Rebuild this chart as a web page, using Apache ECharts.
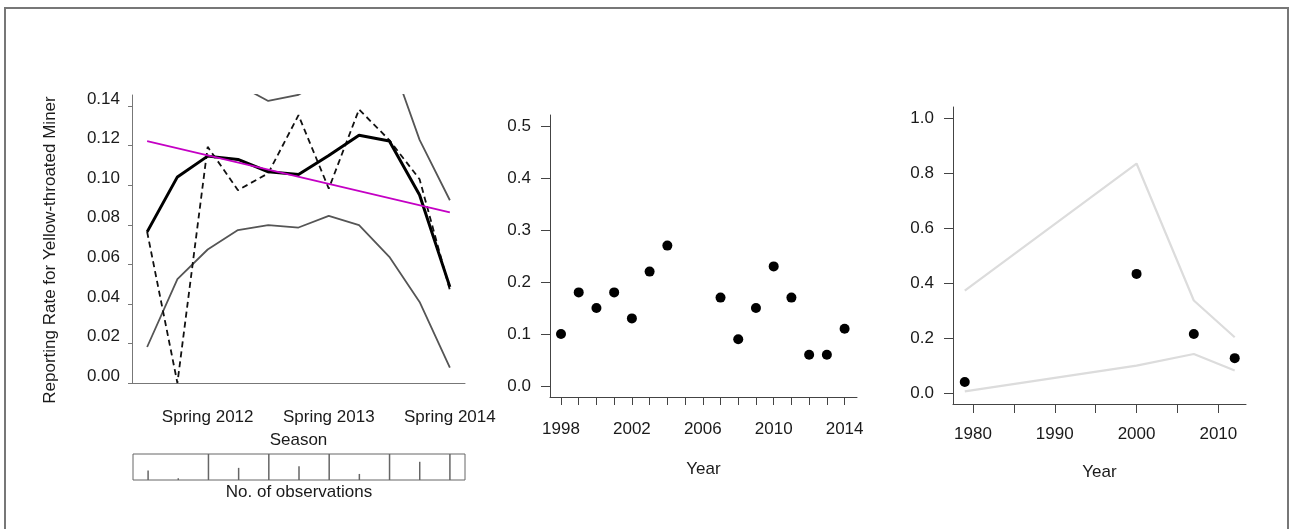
<!DOCTYPE html>
<html>
<head>
<meta charset="utf-8">
<script src="https://cdn.jsdelivr.net/npm/echarts@6/dist/echarts.min.js"></script>
<style>
  html, body { margin: 0; padding: 0; background: #fff; }
  #chart { width: 1290px; height: 529px; }
</style>
</head>
<body>
<div id="chart"></div>
<script>
// left panel: seasonal reporting rate
const seasons = ['Autumn 2012', 'Winter 2012', 'Spring 2012', 'Summer 2012', 'Autumn 2013', 'Winter 2013',
  'Spring 2013', 'Summer 2013', 'Autumn 2014', 'Winter 2014', 'Spring 2014'];
const fitted = [0.0764, 0.1042, 0.1147, 0.1130, 0.1068, 0.1054, 0.1150, 0.1253, 0.1223, 0.0950, 0.0486];
const observed = [0.0764, 0.0000, 0.1194, 0.0975, 0.1060, 0.1354, 0.0983, 0.1383, 0.1228, 0.1030, 0.0470];
const lowerCI = [0.0182, 0.0525, 0.0675, 0.0773, 0.0798, 0.0786, 0.0845, 0.0798, 0.0638, 0.0410, 0.0078];
const upperCI = [0.2000, 0.1800, 0.1650, 0.1508, 0.1426, 0.1457, 0.1550, 0.1700, 0.1660, 0.1229, 0.0924];
const trendStart = 0.1223;
const trendEnd = 0.0862;
const obsCounts = [11, 2, 30, 14, 30, 16, 30, 7, 30, 21, 30];
const leftTicks = [0, 0.02, 0.04, 0.06, 0.08, 0.10, 0.12, 0.14];

// middle panel: annual reporting rate
const years2 = [1998, 1999, 2000, 2001, 2002, 2003, 2004, 2007, 2008, 2009, 2010, 2011, 2012, 2013, 2014];
const rate2 = [0.10, 0.18, 0.15, 0.18, 0.13, 0.22, 0.27, 0.17, 0.09, 0.15, 0.23, 0.17, 0.06, 0.06, 0.11];
const midYTicks = [0, 0.1, 0.2, 0.3, 0.4, 0.5];
const midXTicks = [1998, 1999, 2000, 2001, 2002, 2003, 2004, 2005, 2006, 2007, 2008, 2009, 2010, 2011, 2012, 2013, 2014];
const midXLabels = [1998, 2002, 2006, 2010, 2014];

// right panel: long-term reporting rate
const years3 = [1979, 2000, 2007, 2012];
const rate3 = [0.04, 0.434, 0.215, 0.127];
const upper3 = [0.373, 0.836, 0.337, 0.203];
const lower3 = [0.006, 0.100, 0.142, 0.082];
const rightYTicks = [0, 0.2, 0.4, 0.6, 0.8, 1.0];
const rightXTicks = [1980, 1985, 1990, 1995, 2000, 2005, 2010];
const rightXLabels = [1980, 1990, 2000, 2010];

const font = 'Liberation Sans';
const txt = '#1a1a1a';
const fs = 17;

const chart = echarts.init(document.getElementById('chart'));

const pairs = (xs, ys) => xs.map((x, i) => [x, ys[i]]);
const isSpring = (i, v) => v.startsWith('Spring');

chart.setOption({
  animation: false,
  textStyle: { fontFamily: font },
  graphic: [{
    type: 'polyline',
    shape: { points: [[5, 540], [5, 8], [1288, 8], [1288, 540]] },
    style: { stroke: '#777', lineWidth: 2, fill: null }
  }],
  grid: [
    { left: 132, top: 95, width: 333, height: 288 },
    { left: 133, top: 454, width: 332, height: 26, show: true, borderColor: '#666', borderWidth: 1 },
    { left: 550, top: 115, width: 307, height: 282 },
    { left: 953, top: 107, width: 293, height: 297 }
  ],
  xAxis: [
    {
      gridIndex: 0, type: 'category', data: seasons, boundaryGap: true, offset: 12,
      name: 'Season', nameLocation: 'middle', nameGap: 37,
      nameTextStyle: { fontSize: fs, color: txt },
      axisLine: { lineStyle: { color: '#777' } },
      axisTick: { alignWithLabel: true, length: 5, interval: isSpring, lineStyle: { color: '#777' } },
      axisLabel: { interval: isSpring, fontSize: fs, color: txt, margin: 14 },
      splitLine: { show: false }
    },
    {
      gridIndex: 1, type: 'category', data: seasons, boundaryGap: true,
      name: 'No. of observations', nameLocation: 'middle', nameGap: 4,
      nameTextStyle: { fontSize: fs, color: txt, verticalAlign: 'top' },
      axisLine: { show: false }, axisTick: { show: false }, axisLabel: { show: false }
    },
    {
      gridIndex: 2, type: 'value', min: 1997.38, max: 2014.7,
      name: 'Year', nameLocation: 'middle', nameGap: 64,
      nameTextStyle: { fontSize: fs, color: txt },
      axisLine: { onZero: false, lineStyle: { color: '#444' } },
      axisTick: { customValues: midXTicks, length: 8, lineStyle: { color: '#444' } },
      axisLabel: { customValues: midXLabels, fontSize: fs, color: txt, margin: 24, formatter: v => String(v) },
      splitLine: { show: false }
    },
    {
      gridIndex: 3, type: 'value', min: 1977.56, max: 2013.38,
      name: 'Year', nameLocation: 'middle', nameGap: 60,
      nameTextStyle: { fontSize: fs, color: txt },
      axisLine: { onZero: false, lineStyle: { color: '#444' } },
      axisTick: { customValues: rightXTicks, length: 9, lineStyle: { color: '#444' } },
      axisLabel: { customValues: rightXLabels, fontSize: fs, color: txt, margin: 22, formatter: v => String(v) },
      splitLine: { show: false }
    }
  ],
  yAxis: [
    {
      gridIndex: 0, type: 'value', min: 0, max: 0.1456,
      name: 'Reporting Rate for Yellow-throated Miner', nameLocation: 'middle', nameGap: 73,
      nameTextStyle: { fontSize: fs, color: txt, padding: [0, 22, 0, 0] },
      axisLine: { show: true, lineStyle: { color: '#777' } },
      axisTick: { show: true, customValues: leftTicks, length: 4, lineStyle: { color: '#777' } },
      axisLabel: {
        customValues: leftTicks, fontSize: fs, color: txt, margin: 12,
        verticalAlign: 'bottom', lineHeight: 14, formatter: v => v.toFixed(2)
      },
      splitLine: { show: false }
    },
    {
      gridIndex: 1, type: 'value', min: 0, max: 30,
      axisLine: { show: false }, axisTick: { show: false }, axisLabel: { show: false }, splitLine: { show: false }
    },
    {
      gridIndex: 2, type: 'value', min: -0.0212, max: 0.5212,
      axisLine: { show: true, onZero: false, lineStyle: { color: '#444' } },
      axisTick: { show: true, customValues: midYTicks, length: 9, lineStyle: { color: '#444' } },
      axisLabel: { customValues: midYTicks, fontSize: fs, color: txt, margin: 19, formatter: v => v.toFixed(1) },
      splitLine: { show: false }
    },
    {
      gridIndex: 3, type: 'value', min: -0.04, max: 1.042,
      axisLine: { show: true, onZero: false, lineStyle: { color: '#444' } },
      axisTick: { show: true, customValues: rightYTicks, length: 9, lineStyle: { color: '#444' } },
      axisLabel: { customValues: rightYTicks, fontSize: fs, color: txt, margin: 19, formatter: v => v.toFixed(1) },
      splitLine: { show: false }
    }
  ],
  series: [
    {
      type: 'line', xAxisIndex: 0, yAxisIndex: 0, data: upperCI, symbol: 'none',
      lineStyle: { color: '#555', width: 1.8 }
    },
    {
      type: 'line', xAxisIndex: 0, yAxisIndex: 0, data: lowerCI, symbol: 'none',
      lineStyle: { color: '#555', width: 1.8 }
    },
    {
      type: 'line', xAxisIndex: 0, yAxisIndex: 0, data: observed, symbol: 'none',
      lineStyle: { color: '#111', width: 1.8, type: [6, 4] }
    },
    {
      type: 'line', xAxisIndex: 0, yAxisIndex: 0, data: fitted, symbol: 'none',
      lineStyle: { color: '#000', width: 3 }
    },
    {
      type: 'line', xAxisIndex: 0, yAxisIndex: 0, symbol: 'none',
      data: [[0, trendStart], [seasons.length - 1, trendEnd]],
      lineStyle: { color: '#c400c4', width: 1.8 }
    },
    {
      type: 'bar', xAxisIndex: 1, yAxisIndex: 1, data: obsCounts, barWidth: 1.5,
      itemStyle: { color: '#666' }
    },
    {
      type: 'scatter', xAxisIndex: 2, yAxisIndex: 2, data: pairs(years2, rate2),
      symbolSize: 10, itemStyle: { color: '#000', opacity: 1 }
    },
    {
      type: 'line', xAxisIndex: 3, yAxisIndex: 3, data: pairs(years3, upper3), symbol: 'none',
      lineStyle: { color: '#dcdcdc', width: 2.2 }
    },
    {
      type: 'line', xAxisIndex: 3, yAxisIndex: 3, data: pairs(years3, lower3), symbol: 'none',
      lineStyle: { color: '#dcdcdc', width: 2.2 }
    },
    {
      type: 'scatter', xAxisIndex: 3, yAxisIndex: 3, data: pairs(years3, rate3),
      symbolSize: 10, itemStyle: { color: '#000', opacity: 1 }
    }
  ]
});
</script>
</body>
</html>
